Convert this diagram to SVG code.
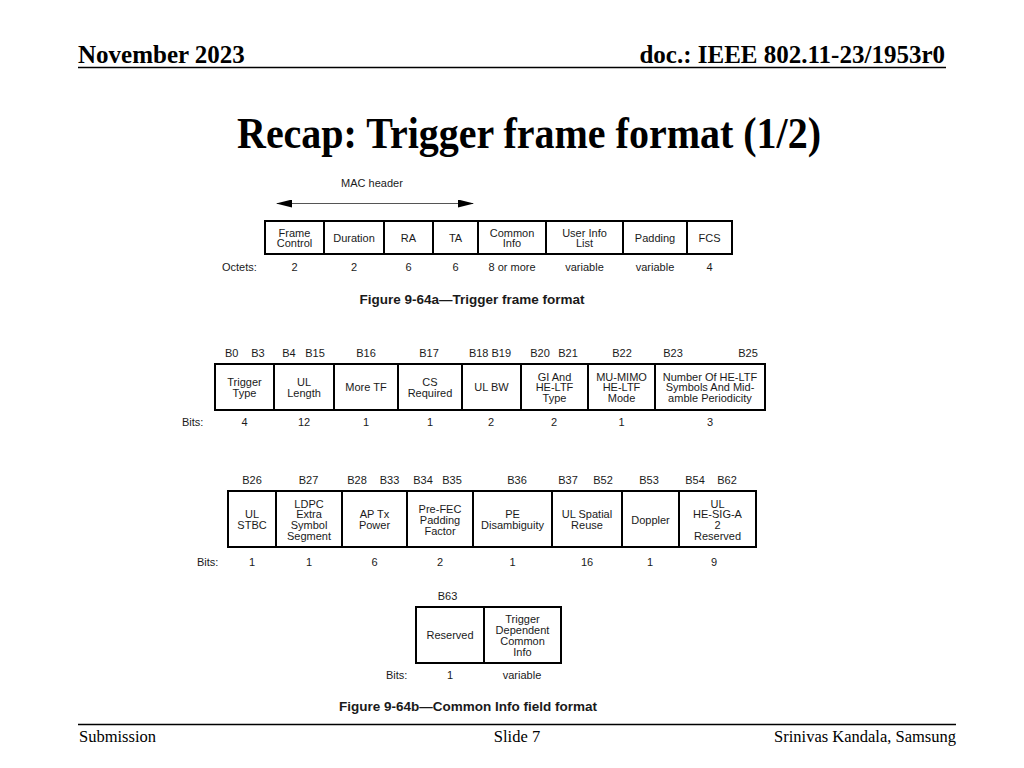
<svg xmlns="http://www.w3.org/2000/svg" width="1024" height="768" viewBox="0 0 1024 768">
<style>
.hdr{font-family:"Liberation Serif","Times New Roman",serif;font-weight:bold;font-size:25px;fill:#000}
.ttl{font-family:"Liberation Serif","Times New Roman",serif;font-weight:bold;font-size:44px;fill:#000}
.ftr{font-family:"Liberation Serif","Times New Roman",serif;font-size:16.5px;fill:#000}
.cell rect{fill:#fff;stroke:#000;stroke-width:2}
.t{font-family:"Liberation Sans",Arial,sans-serif;font-size:11px;fill:#1a1a1a;text-anchor:middle}
.l{font-family:"Liberation Sans",Arial,sans-serif;font-size:11px;fill:#1a1a1a}
.cap{font-family:"Liberation Sans",Arial,sans-serif;font-size:13.5px;font-weight:bold;fill:#1a1a1a;text-anchor:middle}
.rule{stroke:#000;stroke-width:1.6}
</style>
<defs>
<marker id="ah" viewBox="0 0 16 8" refX="15" refY="4" markerWidth="16" markerHeight="8" markerUnits="userSpaceOnUse" orient="auto-start-reverse">
<path d="M0,0 L16,4 L0,8 Z" fill="#000"/>
</marker>
</defs>
<rect width="1024" height="768" fill="#fff"/>

<!-- header -->
<text class="hdr" x="78" y="63">November 2023</text>
<text class="hdr" x="945" y="63" text-anchor="end">doc.: IEEE 802.11-23/1953r0</text>
<line class="rule" x1="78" y1="67.5" x2="946" y2="67.5"/>

<text class="ttl" x="237" y="148" textLength="584" lengthAdjust="spacingAndGlyphs">Recap: Trigger frame format (1/2)</text>

<!-- Figure 9-64a -->
<text class="t" x="372" y="187">MAC header</text>
<g id="connectors">
<line x1="277" y1="203.5" x2="473" y2="203.5" stroke="#555" stroke-width="1" marker-start="url(#ah)" marker-end="url(#ah)"/>
</g>

<g id="frame-control" class="cell"><rect x="265" y="221" width="59" height="33"/><text class="t"><tspan x="294.5" y="236.5">Frame</tspan><tspan x="294.5" y="246.8">Control</tspan></text></g>
<g id="duration" class="cell"><rect x="324" y="221" width="60" height="33"/><text class="t" x="354" y="241.8">Duration</text></g>
<g id="ra" class="cell"><rect x="384" y="221" width="49" height="33"/><text class="t" x="408.5" y="241.8">RA</text></g>
<g id="ta" class="cell"><rect x="433" y="221" width="45" height="33"/><text class="t" x="455.5" y="241.8">TA</text></g>
<g id="common-info" class="cell"><rect x="478" y="221" width="68" height="33"/><text class="t"><tspan x="512" y="236.5">Common</tspan><tspan x="512" y="246.8">Info</tspan></text></g>
<g id="user-info-list" class="cell"><rect x="546" y="221" width="77" height="33"/><text class="t"><tspan x="584.5" y="236.5">User Info</tspan><tspan x="584.5" y="246.8">List</tspan></text></g>
<g id="padding" class="cell"><rect x="623" y="221" width="64" height="33"/><text class="t" x="655" y="241.8">Padding</text></g>
<g id="fcs" class="cell"><rect x="687" y="221" width="45" height="33"/><text class="t" x="709.5" y="241.8">FCS</text></g>

<g id="octets-row">
<text class="l" x="222" y="271">Octets:</text>
<text class="t" x="294.5" y="271">2</text>
<text class="t" x="354" y="271">2</text>
<text class="t" x="408.5" y="271">6</text>
<text class="t" x="455.5" y="271">6</text>
<text class="t" x="512" y="271">8 or more</text>
<text class="t" x="584.5" y="271">variable</text>
<text class="t" x="655" y="271">variable</text>
<text class="t" x="709.5" y="271">4</text>
</g>
<text class="cap" x="472" y="304">Figure 9-64a—Trigger frame format</text>

<!-- Common Info, row 1 -->
<g id="bits-labels-1">
<text class="t" x="231.7" y="356.5">B0</text>
<text class="t" x="258" y="356.5">B3</text>
<text class="t" x="289" y="356.5">B4</text>
<text class="t" x="315" y="356.5">B15</text>
<text class="t" x="366" y="356.5">B16</text>
<text class="t" x="429" y="356.5">B17</text>
<text class="t" x="490" y="356.5">B18 B19</text>
<text class="t" x="540" y="356.5">B20</text>
<text class="t" x="568" y="356.5">B21</text>
<text class="t" x="622" y="356.5">B22</text>
<text class="t" x="673" y="356.5">B23</text>
<text class="t" x="748" y="356.5">B25</text>
</g>
<g id="trigger-type" class="cell"><rect x="215" y="364" width="59" height="46"/><text class="t"><tspan x="244.5" y="385.9">Trigger</tspan><tspan x="244.5" y="396.7">Type</tspan></text></g>
<g id="ul-length" class="cell"><rect x="274" y="364" width="60" height="46"/><text class="t"><tspan x="304" y="385.9">UL</tspan><tspan x="304" y="396.7">Length</tspan></text></g>
<g id="more-tf" class="cell"><rect x="334" y="364" width="64" height="46"/><text class="t" x="366" y="391.3">More TF</text></g>
<g id="cs-required" class="cell"><rect x="398" y="364" width="64" height="46"/><text class="t"><tspan x="430" y="385.9">CS</tspan><tspan x="430" y="396.7">Required</tspan></text></g>
<g id="ul-bw" class="cell"><rect x="462" y="364" width="59" height="46"/><text class="t" x="491.5" y="391.3">UL BW</text></g>
<g id="gi-he-ltf" class="cell"><rect x="521" y="364" width="67" height="46"/><text class="t"><tspan x="554.5" y="380.5">GI And</tspan><tspan x="554.5" y="391.3">HE-LTF</tspan><tspan x="554.5" y="402.1">Type</tspan></text></g>
<g id="mu-mimo" class="cell"><rect x="588" y="364" width="67" height="46"/><text class="t"><tspan x="621.5" y="380.5">MU-MIMO</tspan><tspan x="621.5" y="391.3">HE-LTF</tspan><tspan x="621.5" y="402.1">Mode</tspan></text></g>
<g id="num-he-ltf" class="cell"><rect x="655" y="364" width="110" height="46"/><text class="t"><tspan x="710" y="380.5">Number Of HE-LTF</tspan><tspan x="710" y="391.3">Symbols And Mid-</tspan><tspan x="710" y="402.1">amble Periodicity</tspan></text></g>
<g id="bits-row-1">
<text class="l" x="182" y="425.5">Bits:</text>
<text class="t" x="244.5" y="425.5">4</text>
<text class="t" x="304" y="425.5">12</text>
<text class="t" x="366" y="425.5">1</text>
<text class="t" x="430" y="425.5">1</text>
<text class="t" x="491" y="425.5">2</text>
<text class="t" x="554" y="425.5">2</text>
<text class="t" x="621.5" y="425.5">1</text>
<text class="t" x="710" y="425.5">3</text>
</g>

<!-- Common Info, row 2 -->
<g id="bits-labels-2">
<text class="t" x="252" y="484">B26</text>
<text class="t" x="308.5" y="484">B27</text>
<text class="t" x="357" y="484">B28</text>
<text class="t" x="389.5" y="484">B33</text>
<text class="t" x="423" y="484">B34</text>
<text class="t" x="452" y="484">B35</text>
<text class="t" x="517" y="484">B36</text>
<text class="t" x="568" y="484">B37</text>
<text class="t" x="603" y="484">B52</text>
<text class="t" x="649" y="484">B53</text>
<text class="t" x="695" y="484">B54</text>
<text class="t" x="727" y="484">B62</text>
</g>
<g id="ul-stbc" class="cell"><rect x="228" y="491" width="48" height="56"/><text class="t"><tspan x="252" y="518.4">UL</tspan><tspan x="252" y="529.2">STBC</tspan></text></g>
<g id="ldpc" class="cell"><rect x="276" y="491" width="66" height="56"/><text class="t"><tspan x="309" y="507.6">LDPC</tspan><tspan x="309" y="518.4">Extra</tspan><tspan x="309" y="529.2">Symbol</tspan><tspan x="309" y="540">Segment</tspan></text></g>
<g id="ap-tx-power" class="cell"><rect x="342" y="491" width="65" height="56"/><text class="t"><tspan x="374.5" y="518.4">AP Tx</tspan><tspan x="374.5" y="529.2">Power</tspan></text></g>
<g id="pre-fec" class="cell"><rect x="407" y="491" width="66" height="56"/><text class="t"><tspan x="440" y="513">Pre-FEC</tspan><tspan x="440" y="523.8">Padding</tspan><tspan x="440" y="534.6">Factor</tspan></text></g>
<g id="pe-disambiguity" class="cell"><rect x="473" y="491" width="79" height="56"/><text class="t"><tspan x="512.5" y="518.4">PE</tspan><tspan x="512.5" y="529.2">Disambiguity</tspan></text></g>
<g id="ul-spatial-reuse" class="cell"><rect x="552" y="491" width="70" height="56"/><text class="t"><tspan x="587" y="518.4">UL Spatial</tspan><tspan x="587" y="529.2">Reuse</tspan></text></g>
<g id="doppler" class="cell"><rect x="622" y="491" width="57" height="56"/><text class="t" x="650.5" y="523.8">Doppler</text></g>
<g id="ul-he-sig-a2" class="cell"><rect x="679" y="491" width="77" height="56"/><text class="t"><tspan x="717.5" y="507.6">UL</tspan><tspan x="717.5" y="518.4">HE-SIG-A</tspan><tspan x="717.5" y="529.2">2</tspan><tspan x="717.5" y="540">Reserved</tspan></text></g>
<g id="bits-row-2">
<text class="l" x="197" y="565.5">Bits:</text>
<text class="t" x="252" y="565.5">1</text>
<text class="t" x="309" y="565.5">1</text>
<text class="t" x="374.5" y="565.5">6</text>
<text class="t" x="440" y="565.5">2</text>
<text class="t" x="512.5" y="565.5">1</text>
<text class="t" x="587" y="565.5">16</text>
<text class="t" x="650" y="565.5">1</text>
<text class="t" x="714" y="565.5">9</text>
</g>

<!-- Common Info, row 3 -->
<text class="t" x="447.5" y="600">B63</text>
<g id="reserved" class="cell"><rect x="416" y="607" width="68" height="56"/><text class="t" x="450" y="639.3">Reserved</text></g>
<g id="trigger-dependent" class="cell"><rect x="484" y="607" width="77" height="56"/><text class="t"><tspan x="522.5" y="623.1">Trigger</tspan><tspan x="522.5" y="633.9">Dependent</tspan><tspan x="522.5" y="644.7">Common</tspan><tspan x="522.5" y="655.5">Info</tspan></text></g>
<g id="bits-row-3">
<text class="l" x="386" y="679">Bits:</text>
<text class="t" x="450" y="679">1</text>
<text class="t" x="522" y="679">variable</text>
</g>
<text class="cap" x="468" y="711">Figure 9-64b—Common Info field format</text>

<!-- footer -->
<line class="rule" x1="78" y1="724.5" x2="956" y2="724.5"/>
<text class="ftr" x="79" y="742">Submission</text>
<text class="ftr" x="517" y="742" text-anchor="middle">Slide 7</text>
<text class="ftr" x="956" y="742" text-anchor="end">Srinivas Kandala, Samsung</text>
</svg>
